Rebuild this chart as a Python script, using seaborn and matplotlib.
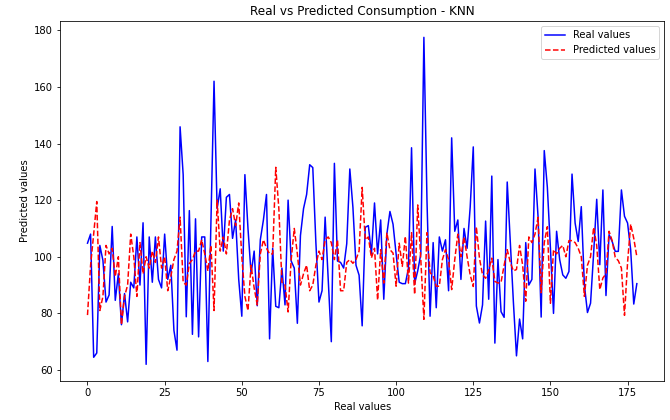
import numpy as np
import pandas as pd
import matplotlib
matplotlib.use("Agg")
import matplotlib.pyplot as plt
import seaborn as sns

# Test-set consumption: observed values and KNN predictions
real_values = [
    104.8, 108, 64.5, 66, 104, 98.7, 84, 86.5, 110.7, 84.6,
    94, 76, 87, 77, 91, 89, 107, 90, 112, 62,
    107, 91, 107, 92, 89, 108, 92, 97, 74, 67,
    145.9, 129, 78.8, 116.3, 72.6, 113.4, 71.7, 107, 107, 63,
    112, 162, 117, 124, 102, 121, 122, 106.5, 113, 92,
    79, 129, 110, 94, 102, 82.7, 106, 113, 122, 71,
    103, 82.5, 82, 96, 83, 120, 98.5, 96, 76.5, 107.5,
    117, 122, 132.5, 131.5, 105, 84, 88, 114, 92, 70,
    133, 98.5, 98, 96, 104.6, 131, 117.5, 97, 93.5, 75.6,
    110.4, 111, 101, 119, 101, 113, 85, 108, 116, 111.5,
    101, 91, 90.5, 90.5, 96, 138.5, 90.5, 95, 101, 177.5,
    120, 79, 105, 82, 107, 102, 106, 88, 142, 109,
    113, 92, 110, 103, 117.5, 138.8, 82.6, 76.6, 83, 112.6,
    85, 128.5, 69.5, 99, 80.6, 78.6, 126.4, 105, 84, 65,
    78, 71, 105, 90, 92, 131, 114, 78.7, 137.5, 124.6,
    103, 80, 109, 99, 93.6, 92.4, 94.8, 129.2, 111.9, 105.4,
    117.7, 90.1, 80.3, 83.6, 101.2, 120.3, 97.2, 123.6, 86.3, 107.8,
    105.4, 101.9, 101.9, 123.6, 114.3, 111.9, 102.5, 83.3, 90.5,
]

predicted_values = [
    79.4, 97, 108, 119.5, 81, 86, 104, 101, 103, 93,
    100, 76, 86, 90, 108, 100, 86, 105, 94, 100,
    96, 102, 98, 107, 96, 100, 88, 93, 99, 102,
    114, 91, 90, 97.6, 99, 102, 102, 106, 101, 95,
    104, 81, 120, 102, 107, 101, 113, 117, 111, 119,
    100, 86, 81, 97, 89, 83, 101, 106, 103, 101,
    101, 131.6, 117, 91, 90, 80.5, 99, 110, 101, 90,
    94, 97, 88, 90, 97, 102, 99, 106, 107, 105,
    99, 106, 88, 88, 98, 99, 97.7, 99, 102, 124.5,
    106, 107, 99.6, 103, 84.7, 102.5, 90.7, 108.5, 102.5, 101.3,
    89.6, 104.8, 96.6, 107.2, 90.7, 108.5, 86.7, 118.3, 99, 77.9,
    108.5, 94.4, 93.2, 89.6, 89.6, 99, 102.5, 99, 88.4, 99,
    108, 100, 107, 100, 93.6, 89.5, 110.6, 99.5, 93.6, 92.4,
    95.4, 99.5, 91.3, 90.7, 91, 97, 102.5, 98, 95, 95.5,
    104, 97, 84.3, 107, 105, 108, 113.9, 87.3, 105, 110.6,
    83.6, 102.5, 101, 103, 104, 100, 105.7, 105.7, 105, 103,
    100, 86, 97, 100, 110.4, 104, 88.4, 92.5, 94, 109,
    105.7, 99.8, 98.6, 96, 79.3, 98, 111.5, 106.5, 100,
]

df = pd.DataFrame({
    "idx": np.arange(len(real_values)),
    "real": real_values,
    "pred": predicted_values,
})

fig, ax = plt.subplots(figsize=(670 / 72, 420 / 72), dpi=72)
fig.subplots_adjust(left=0.0896, right=0.9915, top=0.95, bottom=0.0936)

sns.lineplot(data=df, x="idx", y="real", ax=ax, color="blue",
             label="Real values", linewidth=1.5)
sns.lineplot(data=df, x="idx", y="pred", ax=ax, color="red",
             linestyle="--", label="Predicted values", linewidth=1.5)

ax.set_title("Real vs Predicted Consumption - KNN", fontsize=12)
ax.set_xlabel("Real values", fontsize=10)
ax.set_ylabel("Predicted values", fontsize=10)
ax.set_xticks([0, 25, 50, 75, 100, 125, 150, 175])
ax.set_yticks([60, 80, 100, 120, 140, 160, 180])
ax.legend(loc="upper right", fontsize=10)

fig.savefig("out.png", dpi=72)
